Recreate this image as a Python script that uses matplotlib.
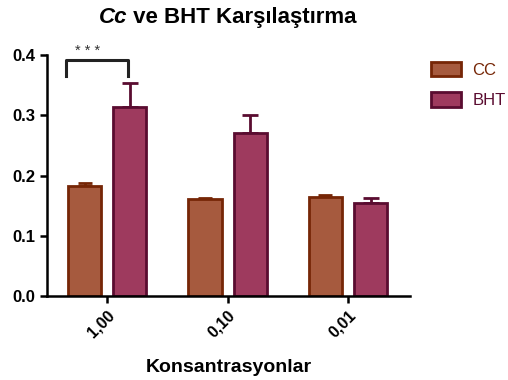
import numpy as np
import matplotlib.pyplot as plt

plt.rcParams['font.family'] = ['Liberation Sans', 'DejaVu Sans']

concentrations = ['1,00', '0,10', '0,01']
cc_vals = [0.183, 0.161, 0.164]
cc_err = [0.004, 0.0015, 0.004]
bht_vals = [0.314, 0.270, 0.155]
bht_err = [0.040, 0.030, 0.008]

cc_face, cc_edge = '#A65A3E', '#762606'
bht_face, bht_edge = '#9E3A5E', '#5A0C30'

fig = plt.figure(figsize=(5.08, 3.8), dpi=100)
ax = fig.add_axes([0.0925, 0.221, 0.7146, 0.634])

x = np.arange(len(concentrations))
w = 0.275
off = 0.1875

ax.bar(x - off, cc_vals, w, color=cc_face, edgecolor=cc_edge, linewidth=2, label='CC', zorder=2)
ax.bar(x + off, bht_vals, w, color=bht_face, edgecolor=bht_edge, linewidth=2, label='BHT', zorder=2)
ax.errorbar(x - off, cc_vals, yerr=[np.zeros(3), cc_err], fmt='none', ecolor=cc_edge,
            elinewidth=2, capsize=5, capthick=2, zorder=1)
ax.errorbar(x + off, bht_vals, yerr=[np.zeros(3), bht_err], fmt='none', ecolor=bht_edge,
            elinewidth=2, capsize=6, capthick=2, zorder=1)

# significance bracket
ax.plot([-0.342, -0.342, 0.173, 0.173], [0.365, 0.392, 0.392, 0.365], color='#222222', lw=2.2,
        clip_on=False)
ax.text(-0.16, 0.396, '* * *', ha='center', va='bottom', fontsize=10.5, color='#333333')

ax.set_xlim(-0.5, 2.515)
ax.set_ylim(0, 0.4)
ax.set_yticks([0.0, 0.1, 0.2, 0.3, 0.4])
ax.set_yticklabels(['0.0', '0.1', '0.2', '0.3', '0.4'], fontsize=12, fontweight='bold')
ax.set_xticks(x)
ax.set_xticklabels(concentrations, rotation=45, ha='right', rotation_mode='anchor',
                   fontsize=11.5, fontweight='bold')
ax.set_xlabel('Konsantrasyonlar', fontsize=14, fontweight='bold', labelpad=13)

for s in ['top', 'right']:
    ax.spines[s].set_visible(False)
for s in ['left', 'bottom']:
    ax.spines[s].set_linewidth(1.8)
ax.tick_params(width=1.8, length=5)

leg = fig.legend(*ax.get_legend_handles_labels(), loc='upper left',
                 bbox_to_anchor=(0.818, 0.876), frameon=False, fontsize=12,
                 handlelength=1.8, handleheight=0.95, handletextpad=0.7, labelspacing=0.85)
for t, c in zip(leg.get_texts(), [cc_edge, bht_edge]):
    t.set_color(c)

fig.text(0.250, 0.953, 'Cc', ha='right', va='center', fontsize=16, fontweight='bold',
         fontstyle='italic')
fig.text(0.250, 0.953, ' ve BHT Karşılaştırma', ha='left', va='center', fontsize=16,
         fontweight='bold')

fig.savefig('out.png', dpi=100)
